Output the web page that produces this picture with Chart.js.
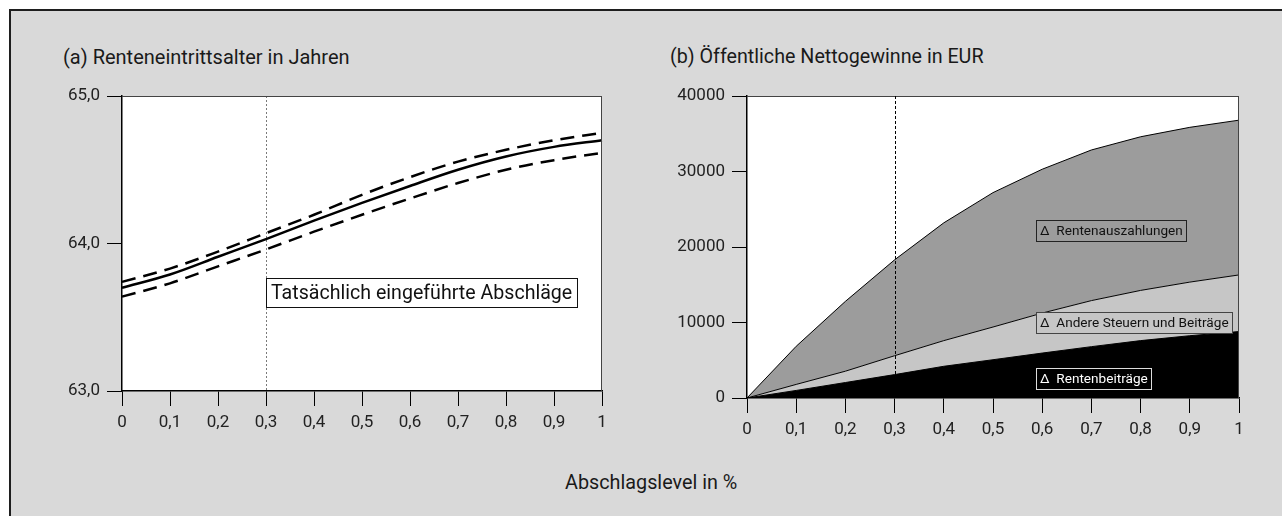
<!DOCTYPE html>
<html><head><meta charset="utf-8">
<script src="https://cdn.jsdelivr.net/npm/chart.js@4.4.1/dist/chart.umd.min.js"></script>
<style>
html,body{margin:0;padding:0;background:#fff;width:1282px;height:516px;overflow:hidden;font-family:Roboto,sans-serif;}
#frame{position:absolute;left:9px;top:9px;width:1300px;height:520px;background:#d9d9d9;border-left:2px solid #1e1e1e;border-top:2px solid #1e1e1e;}
.t{position:absolute;color:#1a1a1a;white-space:nowrap;font-family:Roboto,sans-serif;}
canvas{position:absolute;}
</style></head><body>
<div id="frame"></div>
<div class="t" style="left:63px;top:45px;font-size:20px;line-height:24px;">(a) Renteneintrittsalter in Jahren</div>
<div class="t" style="left:670px;top:45px;font-size:19.7px;line-height:24px;">(b) Öffentliche Nettogewinne in EUR</div>
<div class="t" style="left:565px;top:471px;font-size:19.8px;line-height:24px;">Abschlagslevel in %</div>
<canvas id="c1" width="640" height="470" style="left:0;top:0"></canvas>
<canvas id="c2" width="642" height="470" style="left:640px;top:0"></canvas>
<script>
// ---- data ----
const categories = ['0','0,1','0,2','0,3','0,4','0,5','0,6','0,7','0,8','0,9','1'];
const ageCentral = [63.70,63.79,63.91,64.03,64.155,64.275,64.39,64.50,64.59,64.655,64.70];
const ageUpper   = [63.74,63.83,63.945,64.07,64.195,64.33,64.45,64.555,64.635,64.70,64.75];
const ageLower   = [63.64,63.73,63.845,63.96,64.08,64.195,64.305,64.41,64.50,64.565,64.615];
const ageTickLabels = ['63,0','64,0','65,0'];
const gainTickLabels = ['0','10000','20000','30000','40000'];
// cumulative boundaries of the stacked areas (EUR)
const cumRentenbeitraege = [0,1000,2050,3100,4200,5070,5950,6800,7600,8250,8800];
const cumAndere          = [0,1800,3550,5600,7600,9400,11250,12900,14250,15350,16300];
const cumAuszahlungen    = [0,6850,12800,18300,23200,27200,30300,32850,34600,35850,36800];
const actualIndex = 3; // 0,3 = tatsächlich eingeführte Abschläge

Chart.defaults.font.family = 'Roboto';
Chart.defaults.animation = false;

const tickFont = {family:'Roboto', size:17};

const plotBg = {id:'plotBg', beforeDraw(c){const a=c.chartArea,x=c.ctx;x.save();x.fillStyle='#fff';x.fillRect(a.left,a.top,a.right-a.left,a.bottom-a.top);x.restore();}};
const plotFrame = {id:'plotFrame', afterDatasetsDraw(c){const a=c.chartArea,x=c.ctx;x.save();x.strokeStyle='#444';x.lineWidth=1;x.beginPath();
  x.moveTo(Math.round(a.left),Math.round(a.top)+0.5);x.lineTo(Math.round(a.right),Math.round(a.top)+0.5);
  x.moveTo(Math.round(a.right)-0.5,Math.round(a.top));x.lineTo(Math.round(a.right)-0.5,Math.round(a.bottom));x.stroke();x.restore();}};

function boxLabels(list){ return {id:'boxLabels', afterDatasetsDraw(c){ const ctx=c.ctx;
  list.forEach(L=>{ const px=Math.round(c.scales.x.getPixelForValue(L.x)); const py=c.scales.y.getPixelForValue(L.y);
    ctx.save(); ctx.font=L.font; const w=Math.ceil(ctx.measureText(L.text).width)+L.padL+L.padR; const top=Math.round(py-L.h/2);
    ctx.fillStyle=L.bg; ctx.fillRect(px,top,w,L.h); ctx.strokeStyle=L.border; ctx.lineWidth=1; ctx.strokeRect(px+0.5,top+0.5,w-1,L.h-1);
    ctx.fillStyle=L.color; ctx.textBaseline='middle'; ctx.fillText(L.text,px+L.padL,top+L.h/2+1); ctx.restore(); });
}};}

function axisX(h){return {type:'category', offset:false,
  grid:{display:true,drawOnChartArea:false,drawTicks:true,tickLength:15,color:'#000',lineWidth:1},
  border:{display:true,color:'#000',width:1.5},
  ticks:{font:tickFont,color:'#222',padding:7,maxRotation:0,autoSkip:false},
  afterFit(s){s.height=h;}};}

// ---- chart (a) ----
const refLine1 = {id:'ref1', beforeDatasetsDraw(c){const a=c.chartArea,ctx=c.ctx;const px=Math.round(c.scales.x.getPixelForValue(actualIndex))+0.5;
  ctx.save();ctx.strokeStyle='#7a7a7a';ctx.lineWidth=1;ctx.setLineDash([2,2]);ctx.beginPath();ctx.moveTo(px,a.top);ctx.lineTo(px,a.bottom);ctx.stroke();ctx.restore();}};

new Chart(document.getElementById('c1'), {
  type:'line',
  data:{labels:categories, datasets:[
    {data:ageUpper, borderColor:'#000', borderWidth:2.5, borderDash:[14,8], pointRadius:0, cubicInterpolationMode:'monotone', fill:false},
    {data:ageCentral, borderColor:'#000', borderWidth:2.5, pointRadius:0, cubicInterpolationMode:'monotone', fill:false},
    {data:ageLower, borderColor:'#000', borderWidth:2.5, borderDash:[14,8], pointRadius:0, cubicInterpolationMode:'monotone', fill:false}
  ]},
  options:{responsive:false, devicePixelRatio:1,
    layout:{padding:{top:96,right:38,left:0,bottom:0}},
    plugins:{legend:{display:false},tooltip:{enabled:false}},
    scales:{
      x:axisX(79),
      y:{min:63,max:65,
        grid:{display:true,drawOnChartArea:false,drawTicks:true,tickLength:15,color:'#000',lineWidth:1},
        border:{display:true,color:'#000',width:1.5},
        ticks:{stepSize:1,font:tickFont,color:'#222',padding:7,callback:(v,i)=>ageTickLabels[i]},
        afterFit(s){s.width=122;}}
    }},
  plugins:[plotBg, refLine1, plotFrame, boxLabels([
    {x:actualIndex, y:63.664, text:'Tatsächlich eingeführte Abschläge', font:'19.6px Roboto', h:30, padL:5, padR:5, bg:'#fff', border:'#111', color:'#111'}
  ])]
});

// ---- chart (b) ----
const refLine2 = {id:'ref2', afterDatasetsDraw(c){const a=c.chartArea,ctx=c.ctx;const px=Math.round(c.scales.x.getPixelForValue(actualIndex))+0.5;
  const yb=c.scales.y.getPixelForValue(cumRentenbeitraege[actualIndex]);
  ctx.save();ctx.strokeStyle='#000';ctx.lineWidth=1;ctx.setLineDash([3,2]);ctx.beginPath();ctx.moveTo(px,a.top);ctx.lineTo(px,yb);ctx.stroke();ctx.restore();}};

new Chart(document.getElementById('c2'), {
  type:'line',
  data:{labels:categories, datasets:[
    {label:'Δ Rentenbeiträge', data:cumRentenbeitraege, borderColor:'#000', backgroundColor:'#000', borderWidth:1, pointRadius:0, tension:0, fill:'origin'},
    {label:'Δ Andere Steuern und Beiträge', data:cumAndere, borderColor:'#000', backgroundColor:'#c6c6c6', borderWidth:1, pointRadius:0, tension:0, fill:'-1'},
    {label:'Δ Rentenauszahlungen', data:cumAuszahlungen, borderColor:'#000', backgroundColor:'#9c9c9c', borderWidth:1, pointRadius:0, tension:0, fill:'-1'}
  ]},
  options:{responsive:false, devicePixelRatio:1,
    layout:{padding:{top:96,right:43,left:0,bottom:0}},
    plugins:{legend:{display:false},tooltip:{enabled:false}},
    scales:{
      x:axisX(72),
      y:{min:0,max:40000,
        grid:{display:true,drawOnChartArea:false,drawTicks:true,tickLength:15,color:'#000',lineWidth:1},
        border:{display:true,color:'#000',width:1.5},
        ticks:{stepSize:10000,font:tickFont,color:'#222',padding:7,callback:(v,i)=>gainTickLabels[i]},
        afterFit(s){s.width=107;}}
    }},
  plugins:[plotBg, plotFrame, refLine2, boxLabels([
    {x:5.874, y:22100, text:'Δ  Rentenauszahlungen', font:'13.6px Roboto', h:22, padL:4, padR:4, bg:'#9c9c9c', border:'#222', color:'#111'},
    {x:5.874, y:9970, text:'Δ  Andere Steuern und Beiträge', font:'13.6px Roboto', h:22, padL:4, padR:4, bg:'#c6c6c6', border:'#444', color:'#111'},
    {x:5.874, y:2550, text:'Δ  Rentenbeiträge', font:'13.6px Roboto', h:22, padL:4, padR:4, bg:'#000', border:'#ddd', color:'#fff'}
  ])]
});
</script>
</body></html>
